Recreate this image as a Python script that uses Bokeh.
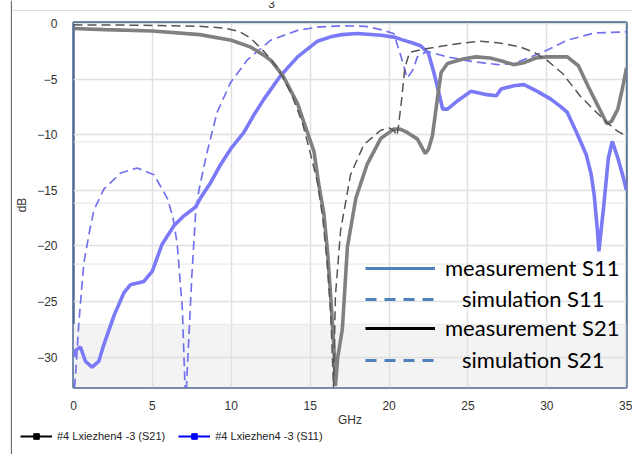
from bokeh.plotting import figure
from bokeh.layouts import row, column
from bokeh.models import Range1d, Legend, LegendItem, BoxAnnotation, Span, FixedTicker, Label
from bokeh.embed import file_html
from bokeh.resources import INLINE

# ---------------- data ----------------
x_ticks = [0, 5, 10, 15, 20, 25, 30, 35]
y_ticks = [-30, -25, -20, -15, -10, -5, 0]

# measured S21 (grey, solid)
f_s21_meas = [0.0, 2.0, 5.0, 8.0, 10.0, 11.2, 12.0, 12.5, 13.3, 14.2, 14.9, 15.24, 15.55,
              15.87, 16.1, 16.3, 16.5, 16.6, 16.75, 17.04, 17.36, 17.9, 18.6, 19.47, 20.3,
              20.7, 21.15, 21.8, 22.3, 22.5, 22.75, 22.9, 23.06, 23.3, 23.7, 24.7, 25.5,
              26.4, 27.2, 27.9, 28.6, 29.3, 30.0, 31.3, 32.0, 32.6, 33.2, 33.8, 34.1,
              34.5, 34.8, 35.05]
db_s21_meas = [-0.45, -0.55, -0.68, -1.0, -1.5, -2.1, -2.8, -3.3, -4.75, -7.2, -10.1, -11.5,
               -14.5, -17.1, -20.5, -24.5, -29.0, -32.6, -30.0, -27.5, -20.1, -15.7, -12.7,
               -10.35, -9.5, -9.5, -9.8, -10.4, -11.7, -11.3, -10.1, -8.5, -6.8, -4.4, -3.6,
               -3.2, -3.0, -3.1, -3.4, -3.7, -3.5, -3.1, -3.0, -3.0, -3.8, -5.6, -7.3, -9.0,
               -8.8, -7.7, -5.8, -4.0]

# simulated S21 (dark grey, dashed)
f_s21_sim = [0.0, 4.0, 8.0, 9.5, 10.5, 11.2, 12.0, 12.9, 13.8, 14.5, 15.0, 15.45, 15.8,
             16.08, 16.3, 16.42, 16.48, 16.55, 16.6, 16.93, 17.56, 18.4, 19.47, 20.0, 20.3,
             20.5, 20.6, 20.8, 21.0, 21.3, 22.2, 23.5, 25.0, 25.8, 27.0, 28.3, 29.2, 30.0,
             31.0, 32.1, 33.0, 33.8, 34.5, 35.05]
db_s21_sim = [-0.12, -0.15, -0.25, -0.4, -0.7, -1.3, -2.4, -3.9, -6.3, -8.9, -11.6, -14.2,
              -17.5, -21.6, -26.0, -30.4, -32.8, -28.0, -24.5, -18.6, -13.6, -10.9, -9.6,
              -9.4, -9.6, -10.1, -9.2, -6.8, -4.0, -2.6, -2.3, -2.0, -1.7, -1.6, -1.75,
              -2.1, -2.6, -3.3, -4.5, -6.5, -7.8, -8.9, -9.7, -10.1]

# measured S11 (blue, solid)
f_s11_meas = [0.0, 0.13, 0.44, 0.76, 1.18, 1.6, 1.92, 2.56, 3.2, 3.6, 4.46, 4.99, 5.6, 6.36,
              7.0, 7.74, 8.05, 8.7, 9.32, 10.0, 10.8, 11.4, 12.07, 13.1, 13.5, 14.2, 15.45,
              16.3, 17.0, 18.0, 19.5, 20.4, 20.8, 21.5, 22.0, 22.5, 22.85, 23.2, 23.4, 23.7,
              24.3, 25.2, 26.2, 26.8, 27.1, 27.9, 28.55, 29.4, 30.25, 30.9, 31.3, 31.95,
              32.5, 32.8, 33.0, 33.2, 33.3, 33.45, 33.6, 33.9, 34.15, 34.5, 34.8, 35.05]
db_s11_meas = [-30.0, -29.4, -29.1, -30.4, -30.9, -30.4, -28.9, -26.3, -24.2, -23.5, -23.2,
               -22.3, -19.9, -18.2, -17.3, -16.5, -15.7, -14.3, -12.7, -11.2, -9.8, -8.3,
               -6.8, -4.75, -4.1, -3.0, -1.6, -1.2, -1.0, -0.9, -1.05, -1.25, -1.45, -1.75,
               -2.0, -2.7, -4.45, -6.5, -7.7, -7.7, -7.0, -6.1, -6.4, -6.5, -5.9, -5.6, -5.5,
               -6.1, -6.8, -7.5, -8.0, -10.0, -11.8, -13.5, -15.4, -18.5, -20.5, -18.5,
               -16.5, -12.1, -10.6, -12.1, -13.6, -15.0]

# simulated S11 (blue, dashed)
f_s11_sim = [0.0, 0.13, 0.34, 0.65, 1.0, 1.29, 1.92, 2.98, 4.04, 5.1, 5.94, 6.3, 6.57, 6.9,
             7.1, 7.15, 7.3, 7.5, 7.74, 7.95, 8.2, 8.48, 9.1, 9.96, 11.0, 12.5, 14.2, 15.45,
             17.0, 18.5, 19.47, 20.3, 20.7, 21.15, 21.5, 21.8, 22.4, 23.7, 25.2, 26.9, 27.9,
             29.0, 30.0, 31.3, 33.0, 35.05]
db_s11_sim = [-34.0, -31.6, -26.9, -21.6, -18.8, -16.8, -14.9, -13.45, -13.0, -13.6, -15.7,
              -17.4, -19.8, -25.7, -34.0, -33.0, -28.6, -22.7, -17.1, -15.0, -13.3, -11.5,
              -8.0, -5.3, -3.3, -1.5, -0.62, -0.33, -0.2, -0.25, -0.55, -0.9, -2.7, -4.9,
              -4.2, -3.0, -2.5, -3.0, -3.4, -3.7, -3.6, -3.0, -2.4, -1.5, -0.86, -0.75]

# faint grid lines of the overlaid second picture (dB)
extra_grid = [-10.65, -16.15, -21.65, -27.06]

bottom_labels = ["#4 Lxiezhen4 -3 (S21)", "#4 Lxiezhen4 -3 (S11)"]
meas_labels = ["measurement S11", "measurement S21"]
sim_labels = ["simulation S11", "simulation S21"]
cut_title = "3"

FRAME = "#6e6e6e"

def blank(width, height, xr, yr):
    f = figure(width=width, height=height, output_backend="svg", toolbar_location=None,
               title=None, x_range=xr, y_range=yr, x_axis_location=None, y_axis_location=None,
               min_border=0, min_border_left=0, min_border_right=0,
               min_border_top=0, min_border_bottom=0, frame_align=False)
    f.outline_line_color = None
    f.xgrid.visible = False
    f.ygrid.visible = False
    f.background_fill_color = "white"
    f.border_fill_color = "white"
    return f

# ---------------- left strip (outer screenshot frame, left edge) ----------------
left_strip = blank(12, 454, Range1d(0, 12), Range1d(454, 0))
left_strip.add_layout(Span(location=11, dimension="height", line_color=FRAME, line_width=1.3))

# ---------------- top strip (outer frame top edge, cut-off title) ----------------
top_strip = blank(620, 11, Range1d(12, 632), Range1d(11, 0))
top_strip.add_layout(Span(location=10, dimension="width", line_color=FRAME, line_width=1.3))
top_strip.add_layout(Label(x=271, y=6.5, text=cut_title, text_align="center",
                           text_baseline="bottom", text_font="Liberation Sans",
                           text_font_size="12px", text_color="#333333"))

# ---------------- main chart ----------------
p = figure(width=620, height=418, output_backend="svg", toolbar_location=None, title=None,
           x_range=Range1d(0, 35.05), y_range=Range1d(-32.74, 0.09), frame_align=False,
           min_border_left=61, min_border_right=6, min_border_top=11, min_border_bottom=37)
p.background_fill_color = "white"
p.border_fill_color = "white"
p.outline_line_color = "#4c6894"
p.outline_line_width = 2.5

for ax in (p.xaxis, p.yaxis):
    ax.axis_line_color = None
    ax.major_tick_line_color = None
    ax.minor_tick_line_color = None
    ax.major_label_text_font = "Liberation Sans"
    ax.major_label_text_font_size = "12px"
    ax.major_label_text_color = "#333333"
    ax.axis_label_text_font = "Liberation Sans"
    ax.axis_label_text_font_size = "12px"
    ax.axis_label_text_font_style = "normal"
    ax.axis_label_text_color = "#333333"

p.xaxis.ticker = FixedTicker(ticks=x_ticks)
p.yaxis.ticker = FixedTicker(ticks=y_ticks)
p.xaxis.axis_label = "GHz"
p.yaxis.axis_label = "dB"
p.xaxis.major_label_standoff = 7
p.xaxis.axis_label_standoff = 0
p.yaxis.major_label_standoff = 10
p.yaxis.axis_label_standoff = 5

p.xgrid.ticker = FixedTicker(ticks=x_ticks)
p.ygrid.ticker = FixedTicker(ticks=y_ticks)
for g in (p.xgrid, p.ygrid):
    g.grid_line_color = "#e0e0e0"
    g.grid_line_width = 1.5

p.add_layout(BoxAnnotation(top=extra_grid[-1], fill_color="#f3f3f3", fill_alpha=1.0,
                           line_color=None, level="image"))
for loc in extra_grid:
    p.add_layout(Span(location=loc, dimension="width", line_color="#ebebeb",
                      line_width=1.2, level="underlay"))

p.line(f_s11_sim, db_s11_sim, line_color="#7272ee", line_width=1.7, line_dash="9 5")
p.line(f_s11_meas, db_s11_meas, line_color="#7a7af6", line_width=3.6)
p.line(f_s21_meas, db_s21_meas, line_color="#808080", line_width=3.6)
p.line(f_s21_sim, db_s21_sim, line_color="#555555", line_width=1.5, line_dash="9 5")

# legend glyph carriers (hidden copies of the series, styled like the pasted legend)
m1 = p.line(f_s11_meas, db_s11_meas, line_color="#4f81bd", line_width=3, visible=False)
m2 = p.line(f_s21_meas, db_s21_meas, line_color="black", line_width=3, visible=False)
s1 = p.line(f_s11_sim, db_s11_sim, line_color="#4f81bd", line_width=3, line_dash="11 8",
            visible=False)
s2 = p.line(f_s21_sim, db_s21_sim, line_color="#4f81bd", line_width=3, line_dash="11 8",
            visible=False)
common = dict(glyph_width=70, glyph_height=26, label_height=26, padding=0, margin=0,
              border_line_color=None, background_fill_alpha=0, inactive_fill_alpha=0,
              label_text_font="Lato", label_text_font_size="22px", label_text_color="black")
leg_m = Legend(items=[LegendItem(label=meas_labels[0], renderers=[m1]),
                      LegendItem(label=meas_labels[1], renderers=[m2])],
               location=(292, 46), label_standoff=10, spacing=33, **common)
leg_s = Legend(items=[LegendItem(label=sim_labels[0], renderers=[s1]),
                      LegendItem(label=sim_labels[1], renderers=[s2])],
               location=(292, 14), label_standoff=27, spacing=34, **common)
p.add_layout(leg_m)
p.add_layout(leg_s)

# ---------------- legend strip (series names under the chart) ----------------
leg_strip = blank(620, 25, Range1d(0, 35.05), Range1d(-32.74, 0.09))
b1l = leg_strip.line(f_s21_meas, db_s21_meas, line_color="black", line_width=2.2, visible=False)
b1m = leg_strip.scatter(f_s21_meas, db_s21_meas, marker="square", size=5, color="black",
                        visible=False)
b2l = leg_strip.line(f_s11_meas, db_s11_meas, line_color="#0000ff", line_width=2.2,
                     visible=False)
b2m = leg_strip.scatter(f_s11_meas, db_s11_meas, marker="square", size=5, color="#0000ff",
                        visible=False)
leg_b = Legend(items=[LegendItem(label=bottom_labels[0], renderers=[b1l, b1m]),
                      LegendItem(label=bottom_labels[1], renderers=[b2l, b2m])],
               orientation="horizontal", location=(8, 11),
               glyph_width=32, glyph_height=14, label_height=14, label_standoff=5,
               spacing=13, padding=0, margin=0, border_line_color=None,
               background_fill_alpha=0, inactive_fill_alpha=0,
               label_text_font="Liberation Sans", label_text_font_size="11px",
               label_text_color="#222222")
leg_strip.add_layout(leg_b)

layout = row(left_strip, column(top_strip, p, leg_strip))
open("out.html", "w").write(file_html(layout, INLINE))
